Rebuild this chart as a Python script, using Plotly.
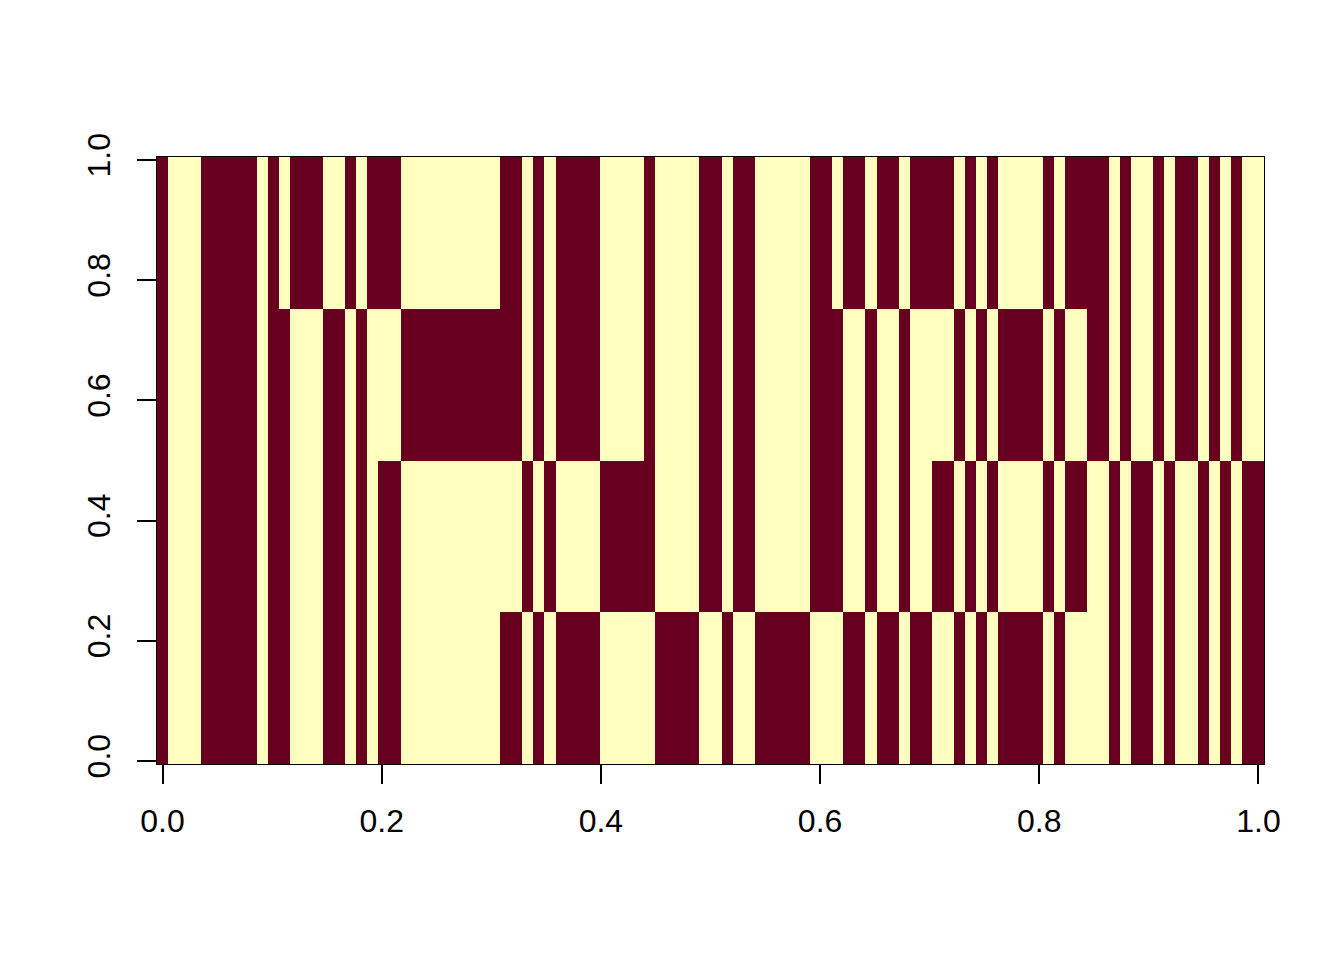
import numpy as np
import plotly.graph_objects as go

# Column runs: (number of columns, pattern for rows top->bottom: y-blocks 4,3,2,1); "1" = dark
col_runs = [
    (1, "1111"), (3, "0000"), (5, "1111"), (1, "0000"), (1, "1111"), (1, "0111"),
    (3, "1000"), (2, "0111"), (1, "1000"), (1, "0111"), (1, "1000"), (2, "1011"),
    (9, "0100"), (2, "1101"), (1, "0010"), (1, "1101"), (1, "0010"), (4, "1101"),
    (4, "0010"), (1, "1110"), (4, "0001"), (2, "1110"), (1, "0001"), (2, "1110"),
    (5, "0001"), (2, "1110"), (1, "0110"), (2, "1001"), (1, "0110"), (2, "1001"),
    (1, "0110"), (2, "1001"), (2, "1010"), (1, "0101"), (1, "1010"), (1, "0101"),
    (1, "1010"), (4, "0101"), (1, "1010"), (1, "0101"), (2, "1010"), (2, "1100"),
    (1, "0011"), (1, "1100"), (2, "0011"), (1, "1100"), (1, "0011"), (2, "1100"),
    (1, "0011"), (1, "1100"), (1, "0011"), (1, "1100"), (2, "0011"),
]
n_cols = 100
n_rows = 100
rows_per_block = 25

x_ticks = [0.0, 0.2, 0.4, 0.6, 0.8, 1.0]
y_ticks = [0.0, 0.2, 0.4, 0.6, 0.8, 1.0]
dark = "#67001F"
light = "#FFFFBF"

columns = []
for count, pat in col_runs:
    columns.extend([pat] * count)

z = np.zeros((n_rows, n_cols))
for j in range(n_rows):
    block = j // rows_per_block  # 0 bottom .. 3 top
    for i, pat in enumerate(columns):
        z[j, i] = int(pat[3 - block])

x = np.linspace(0, 1, n_cols)
y = np.linspace(0, 1, n_rows)
hx = 0.5 / (n_cols - 1)
hy = 0.5 / (n_rows - 1)

fig = go.Figure(go.Heatmap(
    x=x, y=y, z=z, zmin=0, zmax=1,
    colorscale=[[0, light], [0.5, light], [0.5, dark], [1, dark]],
    showscale=False, hoverinfo="skip",
))

font = dict(family="Liberation Sans, Arial, Helvetica", size=32, color="black")
fig.update_layout(
    width=1344, height=960,
    margin=dict(l=149, r=88, t=149, b=204),
    paper_bgcolor="white", plot_bgcolor="white",
    font=font,
)
fig.update_xaxes(
    range=[-hx, 1 + hx], tickvals=x_ticks, ticktext=[f"{v:.1f}" for v in x_ticks],
    ticks="outside", ticklen=19, tickwidth=1.5, tickcolor="black",
    showline=True, linecolor="black", linewidth=1, mirror=True,
    showgrid=False, zeroline=False, tickfont=font, ticklabelstandoff=10,
)
fig.update_yaxes(
    range=[-hy, 1 + hy], tickvals=y_ticks, ticktext=[f"{v:.1f}" for v in y_ticks],
    ticks="outside", ticklen=19, tickwidth=1.5, tickcolor="black",
    showline=True, linecolor="black", linewidth=1, mirror=True,
    showgrid=False, zeroline=False, tickfont=font, tickangle=-90, ticklabelstandoff=14,
)

fig.write_html("out.html")
